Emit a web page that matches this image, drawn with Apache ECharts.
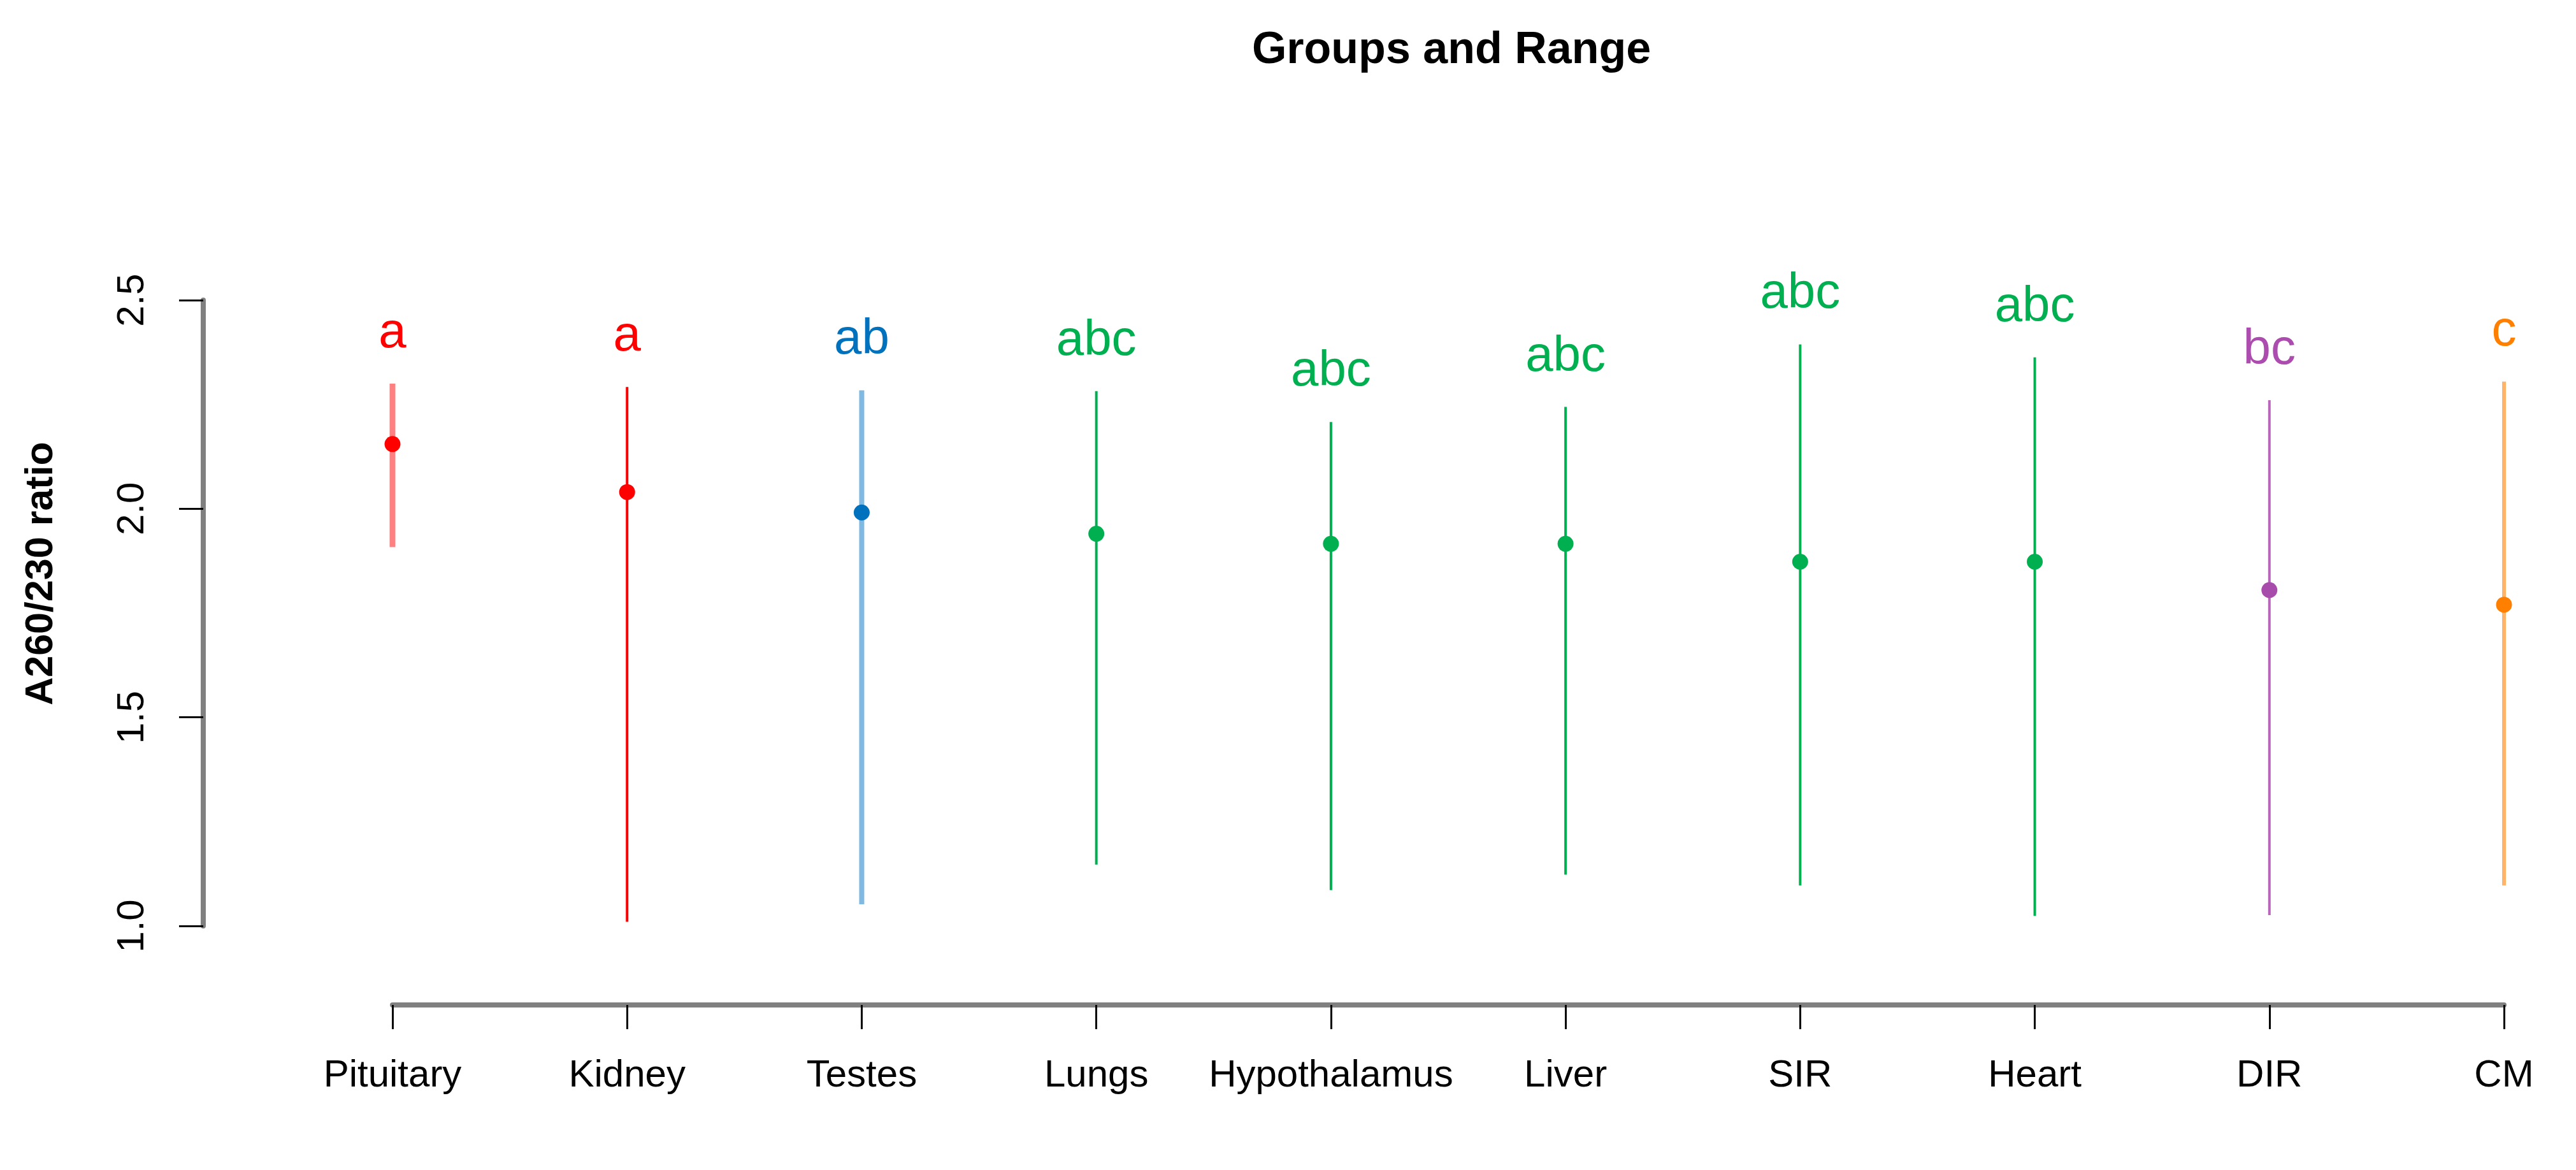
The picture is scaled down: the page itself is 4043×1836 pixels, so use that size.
<!DOCTYPE html>
<html>
<head>
<meta charset="utf-8">
<title>Groups and Range</title>
<script src="https://cdn.jsdelivr.net/npm/echarts@6/dist/echarts.min.js"></script>
<style>
  html, body { margin: 0; padding: 0; background: #fff; }
  #chart { width: 4043px; height: 1836px; }
</style>
</head>
<body>
<div id="chart"></div>
<script>
var chartDom = document.getElementById('chart');
var chart = echarts.init(chartDom, null, { renderer: 'canvas' });

// values
var categories = ['Pituitary', 'Kidney', 'Testes', 'Lungs', 'Hypothalamus', 'Liver', 'SIR', 'Heart', 'DIR', 'CM'];
var means = [2.155, 2.040, 1.991, 1.940, 1.916, 1.916, 1.873, 1.873, 1.805, 1.770];
var maxs = [2.300, 2.292, 2.284, 2.282, 2.208, 2.244, 2.394, 2.363, 2.260, 2.305];
var mins = [1.908, 1.010, 1.052, 1.147, 1.086, 1.123, 1.097, 1.024, 1.026, 1.097];
var groups = ['a', 'a', 'ab', 'abc', 'abc', 'abc', 'abc', 'abc', 'bc', 'c'];
var yTicks = [1.0, 1.5, 2.0, 2.5];

// styling
var pointColors = ['#FF0000', '#FF0000', '#0072BD', '#00B050', '#00B050', '#00B050', '#00B050', '#00B050', '#A84CAC', '#FF8000'];
var lineColors = ['#FF8080', '#FF0000', '#80BAE2', '#00B050', '#00B050', '#00B050', '#00B050', '#00B050', '#B766BA', '#FFB46A'];
var lineWidths = [9, 4, 8, 4, 4, 4, 4, 4, 4, 6];
var labelColors = ['#FF0000', '#FF0000', '#0072BD', '#00B050', '#00B050', '#00B050', '#00B050', '#00B050', '#AC4CAE', '#FF8000'];
var font = 'Liberation Sans, Arial, sans-serif';

var option = {
    animation: false,
    backgroundColor: '#fff',
    title: {
        text: 'Groups and Range',
        left: 2273,
        top: 40,
        textAlign: 'center',
        textStyle: { fontFamily: font, fontSize: 70, fontWeight: 'bold', color: '#000' }
    },
    graphic: [{
        type: 'text',
        x: 65,
        y: 900,
        rotation: Math.PI / 2,
        style: {
            text: 'A260/230 ratio',
            fontFamily: font,
            fontSize: 61,
            fontWeight: 'bold',
            fill: '#000',
            textAlign: 'center',
            textVerticalAlign: 'middle'
        }
    }],
    grid: { left: 616, right: 113, top: 471, bottom: 383 },
    xAxis: {
        type: 'category',
        data: categories,
        boundaryGap: false,
        offset: 124,
        axisLine: { lineStyle: { color: '#808080', width: 8 } },
        axisTick: { show: true, length: 38, lineStyle: { color: '#000', width: 3 } },
        axisLabel: { fontFamily: font, fontSize: 60, color: '#000', margin: 81, interval: 0 },
        splitLine: { show: false }
    },
    yAxis: {
        type: 'value',
        min: yTicks[0],
        max: yTicks[yTicks.length - 1],
        interval: 0.5,
        offset: 297,
        axisLine: { show: true, lineStyle: { color: '#808080', width: 8 } },
        axisTick: { show: true, length: 38, lineStyle: { color: '#000', width: 3 } },
        axisLabel: {
            fontFamily: font, fontSize: 60, color: '#000', margin: 81, rotate: 90,
            formatter: function (v) { return v.toFixed(1); }
        },
        splitLine: { show: false }
    },
    series: [
        {
            type: 'custom',
            name: 'Range',
            data: categories.map(function (c, i) { return [i, mins[i], maxs[i]]; }),
            encode: { x: 0, y: [1, 2] },
            renderItem: function (params, api) {
                var lo = api.coord([api.value(0), api.value(1)]);
                var hi = api.coord([api.value(0), api.value(2)]);
                return {
                    type: 'line',
                    shape: { x1: lo[0], y1: lo[1], x2: hi[0], y2: hi[1] },
                    style: { stroke: lineColors[params.dataIndex], lineWidth: lineWidths[params.dataIndex] }
                };
            },
            z: 2
        },
        {
            type: 'scatter',
            name: 'Mean',
            symbol: 'circle',
            symbolSize: 25,
            itemStyle: { opacity: 1 },
            data: means.map(function (v, i) {
                return { value: [i, v], itemStyle: { color: pointColors[i], opacity: 1 } };
            }),
            z: 3
        },
        {
            type: 'scatter',
            name: 'Groups',
            symbolSize: 1,
            itemStyle: { color: 'rgba(0,0,0,0)', opacity: 1 },
            data: maxs.map(function (v, i) {
                return { value: [i, v], label: { color: labelColors[i] } };
            }),
            label: {
                show: true,
                position: 'top',
                distance: 39,
                fontFamily: font,
                fontSize: 78,
                formatter: function (p) { return groups[p.dataIndex]; }
            },
            z: 4
        }
    ]
};

chart.setOption(option);
window.addEventListener('resize', function () {
    chart.resize();
});
</script>
</body>
</html>
